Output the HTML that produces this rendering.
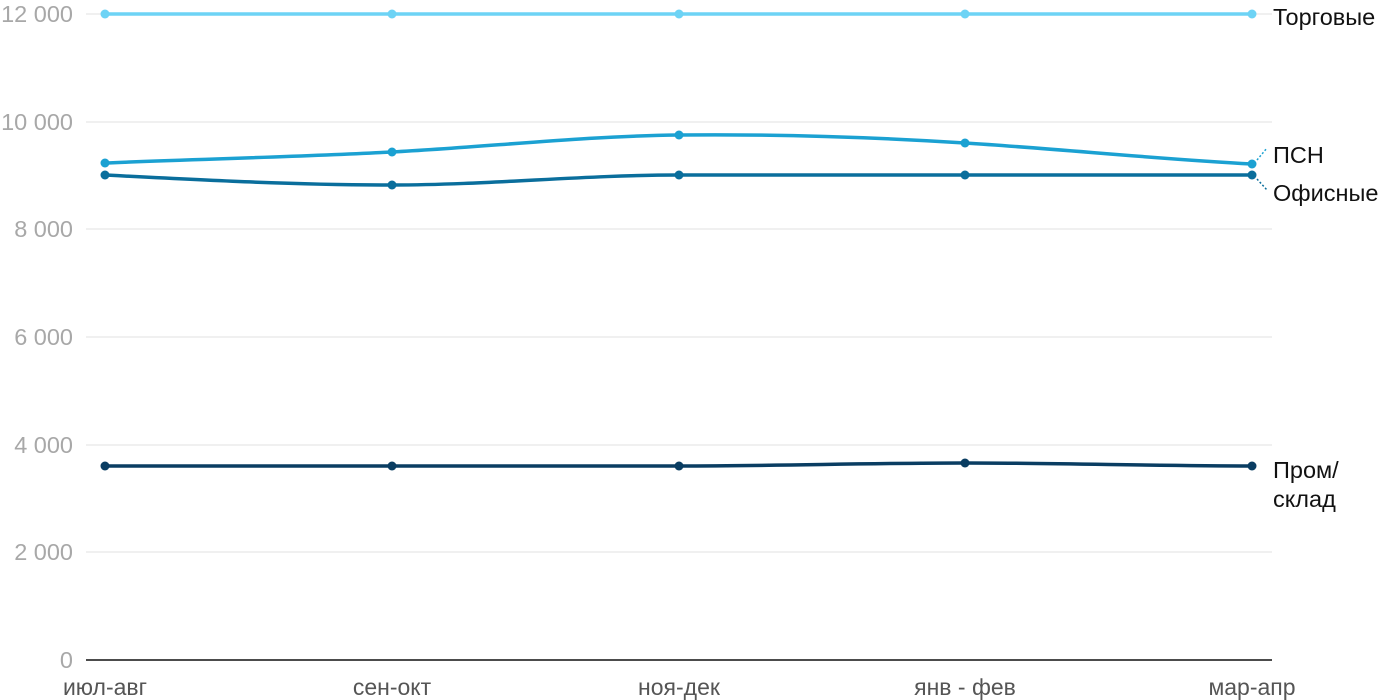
<!DOCTYPE html>
<html><head><meta charset="utf-8"><style>
body{margin:0;background:#fff;}
svg{display:block;font-family:"Liberation Sans",sans-serif;}
.yl{fill:#a8a8a8;font-size:23.5px;text-anchor:end;}
.xl{fill:#555;font-size:23px;text-anchor:middle;}
.lg{fill:#111;font-size:23.5px;}
.g{stroke:#e2e2e2;stroke-width:1;}
</style></head><body>
<svg width="1400" height="700" viewBox="0 0 1400 700">
<g class="g">
<line x1="86" x2="1272" y1="14" y2="14"/><line x1="86" x2="1272" y1="122" y2="122"/>
<line x1="86" x2="1272" y1="229" y2="229"/><line x1="86" x2="1272" y1="337" y2="337"/>
<line x1="86" x2="1272" y1="445" y2="445"/><line x1="86" x2="1272" y1="552" y2="552"/>
</g>
<line x1="86" x2="1272" y1="660" y2="660" stroke="#111" stroke-width="1.5"/>
<g class="yl">
<text x="73" y="22">12 000</text><text x="73" y="130">10 000</text><text x="73" y="237">8 000</text>
<text x="73" y="345">6 000</text><text x="73" y="453">4 000</text><text x="73" y="560">2 000</text><text x="73" y="668">0</text>
</g>
<g class="xl">
<text x="105" y="695">июл-авг</text><text x="392" y="695">сен-окт</text><text x="679" y="695">ноя-дек</text>
<text x="965" y="695">янв - фев</text><text x="1252" y="695">мар-апр</text>
</g>
<g fill="none" stroke-width="3.5">
<path stroke="#6dd3f5" d="M105,14 L1252,14"/>
<path stroke="#1ba1d2" d="M105,163 C201,159 296,157 392,152 C488,147 583,136 679,135 C775,134 870,137 965,143 C1061,149 1156,159 1252,164"/>
<path stroke="#0a6e9c" d="M105,175 C201,180 296,185 392,185 C488,185 583,175 679,175 L1252,175"/>
<path stroke="#0a3d62" d="M105,466 L679,466 C775,466 870,463 965,463 C1061,463 1156,466 1252,466"/>
</g>
<g fill="#6dd3f5"><circle cx="105" cy="14" r="4.5"/><circle cx="392" cy="14" r="4.5"/><circle cx="679" cy="14" r="4.5"/><circle cx="965" cy="14" r="4.5"/><circle cx="1252" cy="14" r="4.5"/></g>
<g fill="#1ba1d2"><circle cx="105" cy="163" r="4.5"/><circle cx="392" cy="152" r="4.5"/><circle cx="679" cy="135" r="4.5"/><circle cx="965" cy="143" r="4.5"/><circle cx="1252" cy="164" r="4.5"/></g>
<g fill="#0a6e9c"><circle cx="105" cy="175" r="4.5"/><circle cx="392" cy="185" r="4.5"/><circle cx="679" cy="175" r="4.5"/><circle cx="965" cy="175" r="4.5"/><circle cx="1252" cy="175" r="4.5"/></g>
<g fill="#0a3d62"><circle cx="105" cy="466" r="4.5"/><circle cx="392" cy="466" r="4.5"/><circle cx="679" cy="466" r="4.5"/><circle cx="965" cy="463" r="4.5"/><circle cx="1252" cy="466" r="4.5"/></g>
<line x1="1257" y1="160" x2="1267" y2="148" stroke="#1ba1d2" stroke-width="1.5" stroke-dasharray="2,2"/>
<line x1="1257" y1="179" x2="1267" y2="190" stroke="#0a6e9c" stroke-width="1.5" stroke-dasharray="2,2"/>
<g class="lg">
<text x="1273" y="25">Торговые</text>
<text x="1273" y="163">ПСН</text>
<text x="1273" y="201">Офисные</text>
<text x="1273" y="478">Пром/</text>
<text x="1273" y="507">склад</text>
</g>
</svg>
</body></html>
